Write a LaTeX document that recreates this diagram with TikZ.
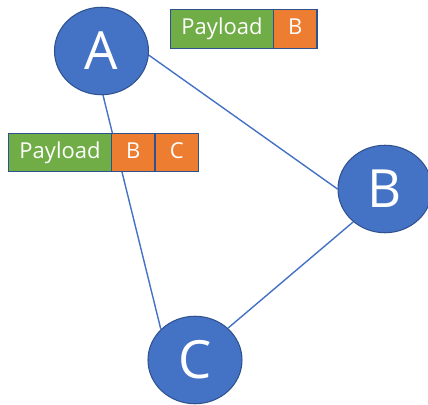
\documentclass[tikz,border=0pt]{standalone}
\usepackage{fontspec}
\setmainfont{Open Sans}
\usetikzlibrary{positioning, shapes.geometric, backgrounds}

\definecolor{nodeblue}{HTML}{4472C4}
\definecolor{edgeblue}{HTML}{2F528F}
\definecolor{paygreen}{HTML}{70AD47}
\definecolor{hdrorange}{HTML}{ED7D31}

\begin{document}
\begin{tikzpicture} [host/.style={ellipse, minimum width=1.88cm, minimum height=1.75cm, inner sep=0, fill=nodeblue, draw=edgeblue, line width=0.6pt, text=white, font=\fontsize{30}{30}\selectfont},
  cell/.style={rectangle, minimum height=0.77cm, inner sep=0, outer sep=0, draw=edgeblue, line width=0.7pt, text=white, text height=0.72em, text depth=0.08em, font=\fontsize{12.5}{14}\selectfont},
  payload/.style={cell, fill=paygreen, minimum width=2.06cm},
  hdr/.style={cell, fill=hdrorange, minimum width=0.87cm},
  link/.style={draw=nodeblue, line width=0.8pt}]
\useasboundingbox (0,0) rectangle (8.56,8.10);
% the three hosts
\node[host] (A) at (2.03,7.08) {A};
\node[host] (B) at (7.70,4.32) {B};
\node[host] (C) at (3.90,0.90) {C};
% links between hosts
\begin{scope}[on background layer]
\draw[link] (A.-5) -- (B.180);
\draw[link] (A.-88) -- (C.138);
\draw[link] (C.44) -- (B.226);
\end{scope}
% packet sent from A
\node[payload] (pay1) at (4.44,7.52) {Payload};
\node[hdr, right=0pt of pay1] (b1) {B};
% packet with two headers
\node[payload] (pay2) at (1.20,5.05) {Payload};
\node[hdr, right=0pt of pay2] (b2) {B};
\node[hdr, right=0pt of b2] (c2) {C};
\end{tikzpicture}
\end{document}
